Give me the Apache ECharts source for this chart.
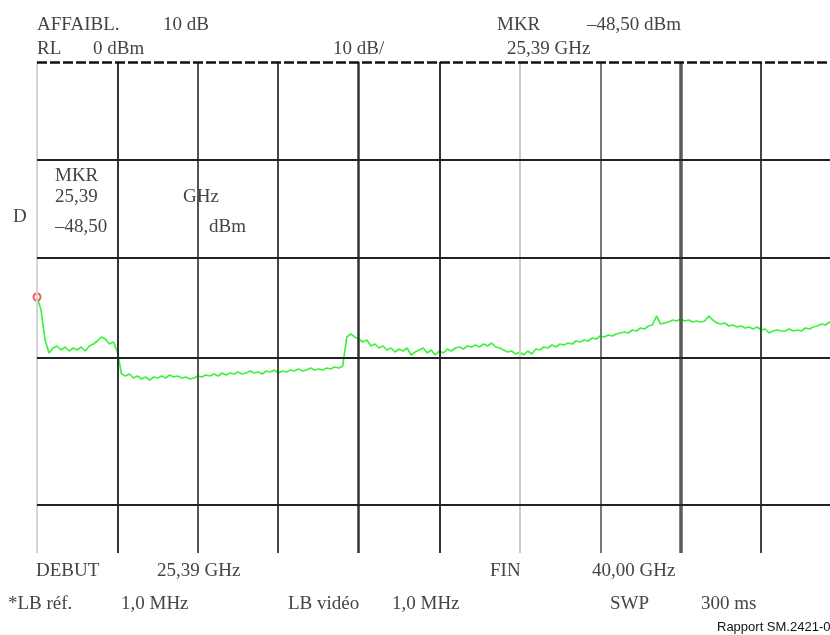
<!DOCTYPE html>
<html>
<head>
<meta charset="utf-8">
<script src="https://cdn.jsdelivr.net/npm/echarts@6/dist/echarts.min.js"></script>
<style>
  html, body { margin: 0; padding: 0; background: #fff; }
  #chart { width: 830px; height: 635px; }
</style>
</head>
<body>
<div id="chart"></div>
<script>
// sweep settings (GHz) and trace in dBm, 201 sweep points
const startFreq = 25.39
const stopFreq = 40.00
// the screen capture is cut on the right, so only part of the last division shows
const visibleStop = 39.79
const traceLevels = [
  -48.5, -49.8, -52.8, -54.1, -53.6, -53.4, -53.8, -53.5, -53.9, -53.6,
  -53.8, -53.5, -53.9, -53.4, -53.2, -52.9, -52.5, -52.7, -53.2, -53.0,
  -54.0, -56.2, -56.4, -56.2, -56.6, -56.4, -56.7, -56.5, -56.8, -56.5,
  -56.6, -56.4, -56.6, -56.3, -56.5, -56.4, -56.6, -56.5, -56.7, -56.6,
  -56.4, -56.5, -56.3, -56.4, -56.2, -56.4, -56.1, -56.3, -56.1, -56.2,
  -56.0, -56.2, -56.1, -55.9, -56.1, -56.0, -56.2, -55.9, -56.0, -55.8,
  -56.1, -55.9, -56.0, -55.8, -55.9, -55.7, -55.9, -55.8, -55.6, -55.8,
  -55.7, -55.8, -55.6, -55.7, -55.5, -55.6, -55.4, -52.5, -52.2, -52.5,
  -52.7, -53.0, -52.8, -53.4, -53.2, -53.6, -53.4, -53.8, -53.6, -54.0,
  -53.7, -53.9, -53.6, -54.3, -54.0, -53.8, -53.6, -54.1, -53.8, -54.3,
  -53.9, -54.1, -53.7, -53.9, -53.6, -53.5, -53.7, -53.4, -53.5, -53.3,
  -53.5, -53.2, -53.4, -53.1, -53.5, -53.6, -53.8, -54.0, -53.9, -54.2,
  -54.0, -54.3, -53.9, -54.2, -53.7, -53.8, -53.5, -53.6, -53.3, -53.5,
  -53.2, -53.3, -53.1, -53.2, -52.9, -53.0, -52.8, -52.9, -52.6, -52.7,
  -52.4, -52.5, -52.3, -52.4, -52.2, -52.1, -52.0, -52.1, -51.8, -51.9,
  -51.6, -51.7, -51.4, -51.3, -50.4, -51.2, -51.1, -51.0, -50.8, -50.9,
  -50.7, -50.9, -50.8, -51.0, -50.9, -51.0, -50.9, -50.4, -50.8, -51.1,
  -51.2, -51.1, -51.4, -51.3, -51.5, -51.4, -51.6, -51.5, -51.7, -51.5,
  -51.8, -51.7, -52.1, -51.9, -51.8, -51.9, -51.9, -51.7, -51.9, -51.8,
  -51.9, -51.6, -51.7, -51.5, -51.4, -51.2, -51.3, -51.0, -51.1, -51.0,
  -50.9
]
const markerFreq = [25.39]
const markerLevel = [-48.5]

// graticule
const divFreqs = [25.39, 26.851, 28.312, 29.773, 31.234, 32.695, 34.156, 35.617, 37.078, 38.539]
const divColors = ['#d4d4d4', '#333', '#555', '#444', '#333', '#333', '#cccccc', '#777', '#5a5a5a', '#444']
const divWidths = [2, 2, 2, 2, 2.5, 2, 2, 2, 3.5, 2]
const gridLevels = [-34.8, -44.6, -54.6, -69.3]
const topLevel = -25

const chart = echarts.init(document.getElementById('chart'))

const step = (stopFreq - startFreq) / (traceLevels.length - 1)
const traceData = traceLevels.map((v, i) => [startFreq + i * step, v])

const serif = '"Liberation Serif", "Times New Roman", serif'
function txt(text, x, y, size) {
  return {
    type: 'text',
    x: x,
    y: y,
    silent: true,
    style: {
      text: text,
      font: (size || 19) + 'px ' + serif,
      fill: '#444',
      verticalAlign: 'middle'
    }
  }
}

const vLines = divFreqs.map((f, i) => ({
  xAxis: f,
  lineStyle: { color: divColors[i], width: divWidths[i], type: 'solid' }
}))
const hLines = gridLevels.map(v => ({
  yAxis: v,
  lineStyle: { color: '#222', width: 2, type: 'solid' }
}))
hLines.push({
  yAxis: topLevel,
  lineStyle: { color: '#111', width: 2.5, type: [10, 3] }
})

const option = {
  animation: false,
  backgroundColor: '#fff',
  grid: { left: 37, top: 62, right: 0, height: 491 },
  xAxis: {
    type: 'value',
    min: startFreq,
    max: visibleStop,
    show: false
  },
  yAxis: {
    type: 'value',
    min: -74.1,
    max: -25,
    show: false
  },
  series: [
    {
      type: 'line',
      data: [],
      z: 1,
      markLine: {
        silent: true,
        symbol: 'none',
        label: { show: false },
        animation: false,
        data: vLines.concat(hLines)
      }
    },
    {
      type: 'line',
      data: traceData,
      z: 3,
      clip: true,
      showSymbol: false,
      lineStyle: { color: '#3ef23e', width: 1.7 }
    },
    {
      type: 'scatter',
      data: markerFreq.map((f, i) => [f, markerLevel[i]]),
      z: 4,
      symbol: 'circle',
      symbolSize: 7,
      itemStyle: { color: '#fff', borderColor: '#e33', borderWidth: 2 }
    }
  ],
  graphic: [
    txt('AFFAIBL.', 37, 25),
    txt('10 dB', 163, 25),
    txt('MKR', 497, 25),
    txt('\u201348,50 dBm', 587, 25),
    txt('RL', 37, 49),
    txt('0 dBm', 93, 49),
    txt('10 dB/', 333, 49),
    txt('25,39 GHz', 507, 49),
    txt('MKR', 55, 176),
    txt('25,39', 55, 197),
    txt('GHz', 183, 197),
    txt('D', 13, 217),
    txt('\u201348,50', 55, 227),
    txt('dBm', 209, 227),
    txt('DEBUT', 36, 571),
    txt('25,39 GHz', 157, 571),
    txt('FIN', 490, 571),
    txt('40,00 GHz', 592, 571),
    txt('*LB r\u00e9f.', 8, 604),
    txt('1,0 MHz', 121, 604),
    txt('LB vid\u00e9o', 288, 604),
    txt('1,0 MHz', 392, 604),
    txt('SWP', 610, 604),
    txt('300 ms', 701, 604),
    {
      type: 'text',
      x: 717,
      y: 627,
      silent: true,
      style: {
        text: 'Rapport SM.2421-01',
        font: '13px "Liberation Sans", sans-serif',
        fill: '#111',
        verticalAlign: 'middle'
      }
    }
  ]
}

chart.setOption(option)
</script>
</body>
</html>
